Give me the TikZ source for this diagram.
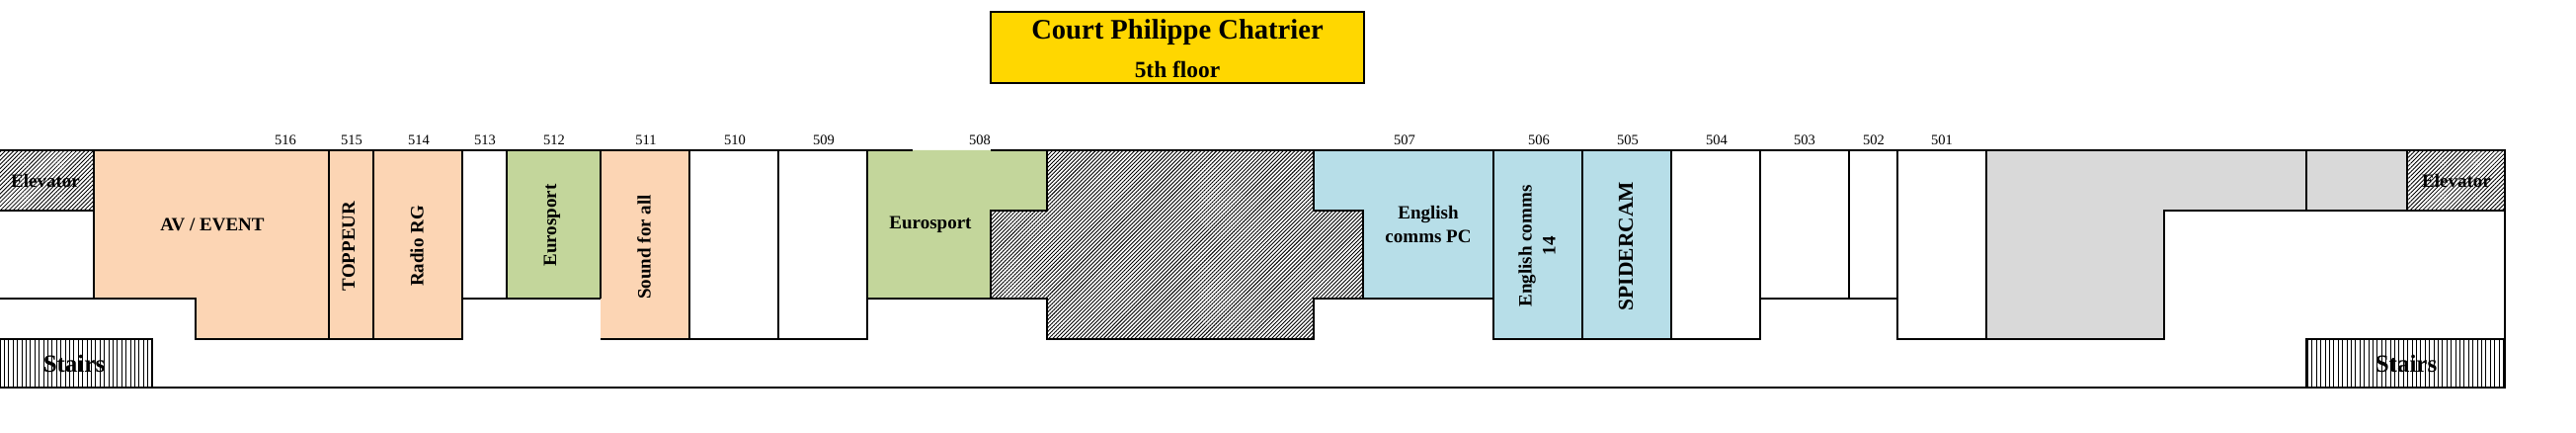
\documentclass[tikz,border=0pt]{standalone}
\usepackage{fontspec}
\setmainfont{Liberation Serif}
\usetikzlibrary{patterns.meta}
\definecolor{peach}{HTML}{FCD5B4}
\definecolor{leaf}{HTML}{C3D69B}
\definecolor{sky}{HTML}{B7DEE8}
\definecolor{ash}{HTML}{D9D9D9}
\definecolor{gold}{HTML}{FFD700}
\tikzset{
  wall/.style={line width=1pt, line join=miter},
  elevatorfill/.style={pattern={Lines[angle=45,distance=1.5pt,line width=.42pt]}},
  voidfill/.style={pattern={Lines[angle=45,distance=1.4pt,line width=.45pt]}},
  stairsfill/.style={pattern={Lines[angle=90,distance=2.2pt,line width=.5pt]}},
  roomnum/.style={font=\fontsize{7.25}{8}\selectfont},
  roomname/.style={font=\fontsize{9.5}{12}\selectfont\bfseries, align=center},
  sidename/.style={roomname, rotate=90},
}
\begin{document}
\begin{tikzpicture}[x=0.5pt, y=-0.5pt]
    \useasboundingbox (0,0) rectangle (2608,438);

    % Title box
    \draw[wall, fill=gold] (1003,12) rectangle (1381,84);
    \node[font=\fontsize{14.3}{16}\selectfont\bfseries] (title) at (1192,33) {Court Philippe Chatrier};
    \node[font=\fontsize{11.7}{14}\selectfont\bfseries] (floor) at (1192,70) {5th floor};

    % Outer walls
    \draw[wall] (0,152) -- (924,152);
    \draw[wall] (1003,152) -- (2536,152) -- (2536,392) -- (0,392);

    % Left end: elevator and stairs
    \fill[white] (0,152) rectangle (95,213);
    \path[elevatorfill] (0,152) rectangle (95,213);
    \draw[wall] (0,152) -- (95,152) -- (95,302) -- (0,302);
    \draw[wall] (0,213) -- (95,213);
    \path[stairsfill] (0,343) rectangle (154,392);
    \draw[wall] (0,343) -- (154,343) -- (154,392);

    % Rooms 516 to 509
    \draw[wall, fill=peach] (95,152) -- (333,152) -- (333,343) -- (198,343) -- (198,302) -- (95,302) -- cycle;
    \draw[wall, fill=peach] (333,152) rectangle (378,343);
    \draw[wall, fill=peach] (378,152) rectangle (468,343);
    \draw[wall] (468,152) rectangle (513,302);
    \draw[wall, fill=leaf] (513,152) rectangle (608,302);
    \fill[peach] (608,152) rectangle (698,343);
    \draw[wall] (608,343) -- (698,343) -- (698,152) -- (608,152) -- (608,302);
    \draw[wall] (698,152) rectangle (788,343);
    \draw[wall] (788,152) rectangle (878,343);

    % Room 508, open on top
    \fill[leaf] (878,152) -- (1060,152) -- (1060,213) -- (1003,213) -- (1003,302) -- (878,302) -- cycle;
    \draw[wall] (924,152) -- (878,152) -- (878,302) -- (1003,302) -- (1003,213) -- (1060,213) -- (1060,152) -- (1003,152);

    % Hatched void in the middle
    \path[voidfill] (1060,152) -- (1330,152) -- (1330,213) -- (1380,213) -- (1380,302) -- (1330,302) -- (1330,343) -- (1060,343) -- (1060,302) -- (1003,302) -- (1003,213) -- (1060,213) -- cycle;
    \draw[wall] (1060,152) -- (1330,152) -- (1330,213) -- (1380,213) -- (1380,302) -- (1330,302) -- (1330,343) -- (1060,343) -- (1060,302) -- (1003,302) -- (1003,213) -- (1060,213) -- cycle;

    % Rooms 507 to 501
    \draw[wall, fill=sky] (1330,152) -- (1512,152) -- (1512,302) -- (1380,302) -- (1380,213) -- (1330,213) -- cycle;
    \draw[wall, fill=sky] (1512,152) rectangle (1602,343);
    \draw[wall, fill=sky] (1602,152) rectangle (1692,343);
    \draw[wall] (1692,152) rectangle (1782,343);
    \draw[wall] (1782,152) rectangle (1872,302);
    \draw[wall] (1872,152) rectangle (1921,302);
    \draw[wall] (1921,152) rectangle (2011,343);

    % Grey area and right end
    \draw[wall, fill=ash] (2011,152) -- (2437,152) -- (2437,213) -- (2191,213) -- (2191,343) -- (2011,343) -- cycle;
    \draw[wall] (2335,152) -- (2335,213);
    \path[elevatorfill] (2437,152) rectangle (2536,213);
    \draw[wall] (2437,152) rectangle (2536,213);
    \path[stairsfill] (2335,343) rectangle (2536,392);
    \draw[wall] (2335,392) -- (2335,343) -- (2536,343);

    % Room numbers
    \node[roomnum] (n516) at (289,142) {516};
    \node[roomnum] (n515) at (356,142) {515};
    \node[roomnum] (n514) at (424,142) {514};
    \node[roomnum] (n513) at (491,142) {513};
    \node[roomnum] (n512) at (561,142) {512};
    \node[roomnum] (n511) at (654,142) {511};
    \node[roomnum] (n510) at (744,142) {510};
    \node[roomnum] (n509) at (834,142) {509};
    \node[roomnum] (n508) at (992,142) {508};
    \node[roomnum] (n507) at (1422,142) {507};
    \node[roomnum] (n506) at (1558,142) {506};
    \node[roomnum] (n505) at (1648,142) {505};
    \node[roomnum] (n504) at (1738,142) {504};
    \node[roomnum] (n503) at (1827,142) {503};
    \node[roomnum] (n502) at (1897,142) {502};
    \node[roomnum] (n501) at (1966,142) {501};

    % Room names
    \node[roomname] (elevl) at (46,183) {Elevator};
    \node[roomname] (elevr) at (2487,183) {Elevator};
    \node[roomname, font=\fontsize{12.5}{14}\selectfont\bfseries] (stairsl) at (75,368) {Stairs};
    \node[roomname, font=\fontsize{12.5}{14}\selectfont\bfseries] (stairsr) at (2436,368) {Stairs};
    \node[roomname] (avevent) at (215,227) {AV / EVENT};
    \node[sidename] (toppeur) at (353,249) {TOPPEUR};
    \node[sidename] (radiorg) at (422,249) {Radio RG};
    \node[sidename] (eurol) at (559,228) {Eurosport};
    \node[sidename] (sound) at (652,250) {Sound for all};
    \node[roomname] (euroc) at (942,227) {Eurosport};
    \node[roomname] (commspc) at (1446,227) {English\\comms PC};
    \node[sidename] (comms14) at (1556,249) {English comms\\14};
    \node[sidename, font=\fontsize{10.75}{12}\selectfont\bfseries] (spidercam) at (1646,249) {SPIDERCAM};
\end{tikzpicture}
\end{document}
